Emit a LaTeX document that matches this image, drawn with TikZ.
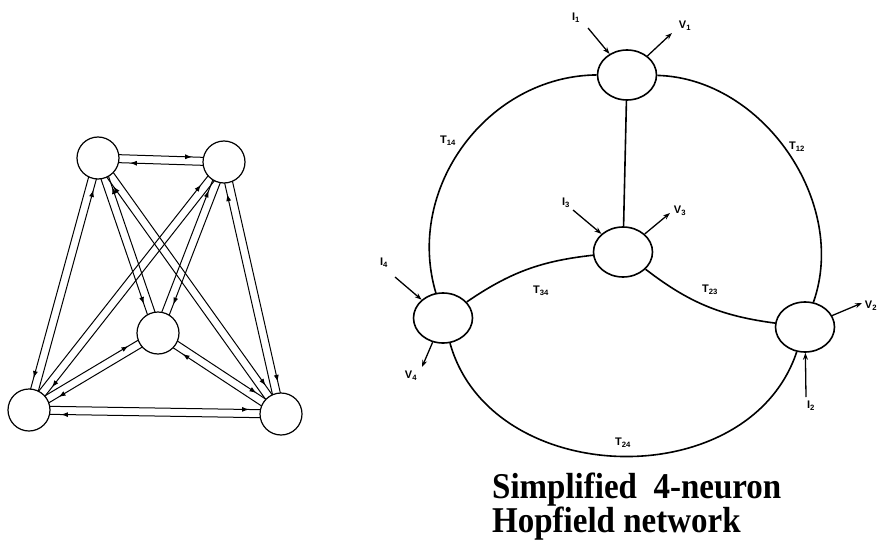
\documentclass[tikz,border=0pt]{standalone}
\usepackage{fontspec}
\setmainfont{Liberation Serif}
\setsansfont{Liberation Sans}
\usetikzlibrary{shapes.geometric,arrows.meta,calc,decorations.markings,backgrounds}
\begin{document}
\begin{tikzpicture}[x=1pt,y=1pt,
  cell/.style={circle,draw,fill=white,line width=1.2pt,minimum size=42pt,inner sep=0pt},
  pairline/.style={line width=1pt,postaction={decorate},
    decoration={markings,mark=at position -32pt with {\arrow{Latex[length=7pt,width=5pt]}}}},
  neuron/.style={ellipse,draw,fill=white,line width=1.6pt,minimum width=59pt,minimum height=50pt,inner sep=0pt},
  syn/.style={line width=1.6pt},
  io/.style={line width=1.3pt,-{Stealth[length=7pt,width=5pt]}},
  lab/.style={font=\sffamily\bfseries\fontsize{11}{12}\selectfont,inner sep=0pt},
  heading/.style={font=\bfseries\fontsize{33}{36}\selectfont,anchor=base west,inner sep=0pt}
]
\useasboundingbox (0,0) rectangle (880,550);

% ---------- left: fully connected 5-cell network ----------
\node[cell] (TL) at (98,392) {};
\node[cell] (TR) at (224,388) {};
\node[cell] (M)  at (158,217) {};
\node[cell] (BL) at (29,140) {};
\node[cell] (BR) at (281,136) {};

\begin{pgfonlayer}{background}
\foreach \a/\b/\p/\q in {TL/TR/90/-90, TL/BL/-90/90, TL/M/-90/90, TL/BR/90/-90,
                         TR/BR/90/-90, TR/M/90/-90, TR/BL/90/-90, BL/BR/90/-90,
                         BL/M/90/-90, M/BR/90/-90}{
  \draw[pairline] ($(\a)!4pt!\p:(\b)$) -- ($(\b)!4pt!\q:(\a)$);
  \draw[pairline] ($(\b)!4pt!\p:(\a)$) -- ($(\a)!4pt!\q:(\b)$);
}
\end{pgfonlayer}

% ---------- right: simplified 4-neuron Hopfield network ----------
\node[neuron] (n1) at (627,475) {};
\node[neuron] (n3) at (623,298) {};
\node[neuron] (n4) at (443,232) {};
\node[neuron] (n2) at (805,223) {};

\draw[syn] (n1) to[bend right=53,looseness=1.03] (n4);
\draw[syn] (n1) to[bend left=54,looseness=0.98] (n2);
\draw[syn] (n4) to[bend right=73,looseness=1.12] (n2);
\draw[syn] (n1) -- (n3);
\draw[syn] (n4) to[bend left=14] (n3);
\draw[syn] (n3) to[bend right=15] (n2);

\coordinate (i1) at (588,522);
\coordinate (v1) at (672,517);
\coordinate (i3) at (573,340);
\coordinate (v3) at (670,337);
\coordinate (i4) at (395,273);
\coordinate (v4) at (422,183);
\coordinate (v2) at (862,247);
\coordinate (i2) at (806,153);

\draw[io] (i1) -- (n1);
\draw[io] (n1) -- (v1);
\draw[io] (i3) -- (n3);
\draw[io] (n3) -- (v3);
\draw[io] (i4) -- (n4);
\draw[io] (n4) -- (v4);
\draw[io] (n2) -- (v2);
\draw[io] (i2) -- (n2);

\node[lab] (lI1) at (576,532) {I\textsubscript{1}};
\node[lab] (lV1) at (685,524) {V\textsubscript{1}};
\node[lab] (lI3) at (566,347) {I\textsubscript{3}};
\node[lab] (lV3) at (680,339) {V\textsubscript{3}};
\node[lab] (lI4) at (384,287) {I\textsubscript{4}};
\node[lab] (lV4) at (411,174) {V\textsubscript{4}};
\node[lab] (lV2) at (871,244) {V\textsubscript{2}};
\node[lab] (lI2) at (811,144) {I\textsubscript{2}};

\node[lab] (t14) at (448,409) {T\textsubscript{14}};
\node[lab] (t12) at (797,403) {T\textsubscript{12}};
\node[lab] (t34) at (541,259) {T\textsubscript{34}};
\node[lab] (t23) at (710,260) {T\textsubscript{23}};
\node[lab] (t24) at (623,107) {T\textsubscript{24}};

\node[heading] (h1) at (492,52) {\scalebox{1}[1.1]{Simplified\hspace{0.5em}4-neuron}};
\node[heading] (h2) at (492,18) {\scalebox{1}[1.1]{Hopfield network}};
\end{tikzpicture}
\end{document}
